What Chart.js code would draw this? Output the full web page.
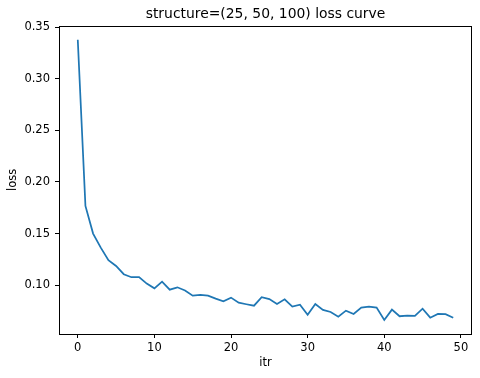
<!DOCTYPE html>
<html>
<head>
<meta charset="utf-8">
<script src="https://cdn.jsdelivr.net/npm/chart.js@4.4.0/dist/chart.umd.min.js"></script>
<style>
  html, body { margin: 0; padding: 0; background: #fff; }
  canvas { display: block; }
</style>
</head>
<body>
<canvas id="lossChart" width="480" height="378"></canvas>
<script>
const itr = [];
for (let i = 0; i < 50; i++) itr.push(i);

const loss = [
    0.3377, 0.1768, 0.1500, 0.1364, 0.1242, 0.1187, 0.1107, 0.1078, 0.1078, 0.1016,
    0.0970, 0.1035, 0.0957, 0.0980, 0.0950, 0.0899, 0.0906, 0.0899, 0.0870, 0.0845,
    0.0880, 0.0831, 0.0816, 0.0802, 0.0884, 0.0866, 0.0819, 0.0864, 0.0793, 0.0812,
    0.0715, 0.0819, 0.0761, 0.0741, 0.0696, 0.0754, 0.0722, 0.0783, 0.0793, 0.0783,
    0.0664, 0.0764, 0.0700, 0.0706, 0.0703, 0.0773, 0.0686, 0.0722, 0.0720, 0.0686
];

const xTicks = [0, 10, 20, 30, 40, 50];
const yTicks = [0.10, 0.15, 0.20, 0.25, 0.30, 0.35];

const font = 'DejaVu Sans';

// matplotlib style box around the axes
const frame = {
    id: 'frame',
    afterDraw(chart) {
        const a = chart.chartArea;
        const c = chart.ctx;
        c.save();
        c.strokeStyle = '#000';
        c.lineWidth = 1;
        c.strokeRect(Math.round(a.left) + 0.5, Math.round(a.top) + 0.5,
            Math.round(a.right - a.left) - 1, Math.round(a.bottom - a.top));
        c.restore();
    }
};

const ctx = document.getElementById('lossChart').getContext('2d');
const lossChart = new Chart(ctx, {
    type: 'line',
    data: {
        datasets: [{
            data: itr.map((x, i) => ({ x: x, y: loss[i] })),
            borderColor: '#1f77b4',
            borderWidth: 1.75,
            pointRadius: 0,
            tension: 0,
            fill: false
        }]
    },
    options: {
        responsive: false,
        animation: false,
        devicePixelRatio: 1,
        layout: { padding: { left: 0, right: 8, top: 0, bottom: 0 } },
        plugins: {
            legend: { display: false },
            tooltip: { enabled: false },
            title: {
                display: true,
                text: 'structure=(25, 50, 100) loss curve',
                color: '#000',
                fullSize: false,
                font: { family: font, size: 13.9, weight: 'normal' },
                padding: { top: 5.6, bottom: 3.4 }
            }
        },
        scales: {
            x: {
                type: 'linear',
                min: -2.45,
                max: 51.45,
                afterBuildTicks: (scale) => { scale.ticks = xTicks.map(v => ({ value: v })); },
                afterFit: (scale) => { scale.height = 44; },
                grid: { display: true, drawOnChartArea: false, drawTicks: true, tickLength: 4, color: '#000' },
                border: { display: false },
                ticks: { color: '#000', padding: 3, maxRotation: 0, font: { family: font, size: 11.5 } },
                title: { display: true, text: 'itr', color: '#000', font: { family: font, size: 11.5 }, padding: { top: 0, bottom: 8.4 } }
            },
            y: {
                min: 0.0528,
                max: 0.3513,
                afterBuildTicks: (scale) => { scale.ticks = yTicks.map(v => ({ value: v })); },
                afterFit: (scale) => { scale.width = 59; },
                grid: { display: true, drawOnChartArea: false, drawTicks: true, tickLength: 4, color: '#000' },
                border: { display: false },
                ticks: { color: '#000', padding: 5, callback: (v) => v.toFixed(2), font: { family: font, size: 11.5 } },
                title: { display: true, text: 'loss', color: '#000', font: { family: font, size: 11.5 }, padding: { top: 6.4, bottom: 0 } }
            }
        }
    },
    plugins: [frame]
});
</script>
</body>
</html>
